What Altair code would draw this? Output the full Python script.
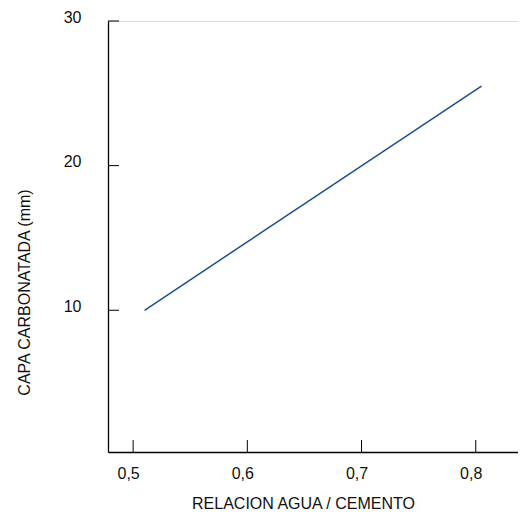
import altair as alt
import pandas as pd

# data
ratio = [0.51, 0.805]
carb = [10.0, 25.5]
x_ticks = [0.5, 0.6, 0.7, 0.8]
y_ticks = [10, 20, 30]

W, H = 410, 431
FONT = "Liberation Sans"

line_df = pd.DataFrame({"ratio": ratio, "carb": carb})
xt_df = pd.DataFrame({"v": x_ticks})
yt_df = pd.DataFrame({"v": y_ticks})

xscale = alt.Scale(domain=[0.478, 0.837], nice=False, zero=False)
yscale = alt.Scale(domain=[0.2, 30], nice=False, zero=False)

xaxis = alt.Axis(
    values=x_ticks, ticks=False, tickSize=0, grid=False,
    labelExpr="replace(format(datum.value, '.1f'), '.', ',')",
    labelFont=FONT, labelFontSize=16, labelColor="#111", labelPadding=13, labelOffset=-5,
    domainColor="#000", domainWidth=1.3,
    title="RELACION AGUA / CEMENTO", titleFont=FONT, titleFontSize=16,
    titleFontWeight="normal", titleColor="#111",
    titleX=195, titleY=56, titleAlign="center", titleBaseline="alphabetic",
    labelFlush=False,
)
yaxis = alt.Axis(
    values=y_ticks, ticks=False, tickSize=0, grid=False, format="d",
    labelFont=FONT, labelFontSize=16, labelColor="#111", labelPadding=27, labelOffset=-4,
    domainColor="#000", domainWidth=1.3,
    title="CAPA CARBONATADA (mm)", titleFont=FONT, titleFontSize=16,
    titleFontWeight="normal", titleColor="#111",
    titleX=-84, titleY=271, titleAngle=270, titleAlign="center", titleBaseline="middle",
)

line = alt.Chart(line_df).mark_line(color="#1d4c86", strokeWidth=1.5).encode(
    x=alt.X("ratio:Q", scale=xscale, axis=xaxis),
    y=alt.Y("carb:Q", scale=yscale, axis=yaxis),
)

xt = alt.Chart(xt_df).mark_rule(color="#000", strokeWidth=1).encode(
    x=alt.X("v:Q", scale=xscale),
    y=alt.value(H),
    y2=alt.value(H - 12),
)
yt = alt.Chart(yt_df).mark_rule(color="#000", strokeWidth=1).encode(
    y=alt.Y("v:Q", scale=yscale),
    x=alt.value(0),
    x2=alt.value(11),
)

chart = alt.layer(line, xt, yt).properties(
    width=W, height=H,
    autosize=alt.AutoSizeParams(type="none"),
    padding={"left": 100, "top": 13, "right": 0, "bottom": 60},
).configure_view(stroke=None).configure(background="white")

chart.save("out.html", embed_options={"renderer": "svg", "actions": False})
